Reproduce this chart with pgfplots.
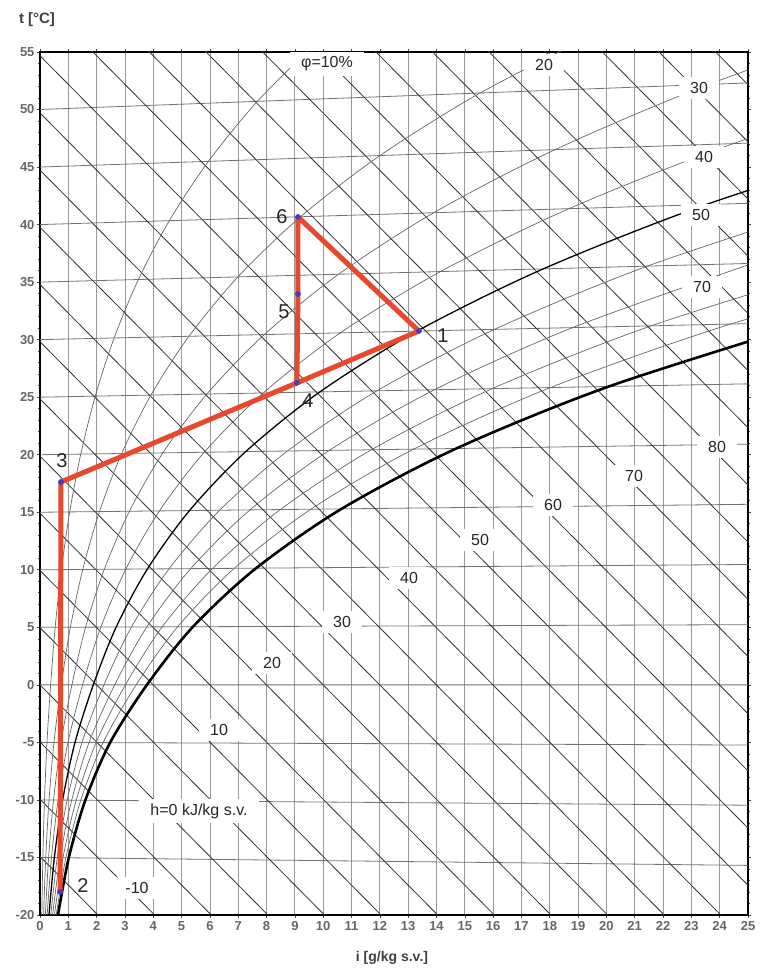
\documentclass[border=0pt]{standalone}
\usepackage{fontspec}
\setmainfont{Liberation Sans}
\usepackage{pgfplots}
\pgfplotsset{compat=1.18}

\definecolor{pathred}{RGB}{232,72,45}
\definecolor{ptblue}{RGB}{70,60,190}

\tikzset{
  clab/.style={fill=white, inner xsep=11pt, inner ysep=5pt,
               font=\fontsize{16}{18}\selectfont, text=black!85},
  plab/.style={inner sep=0pt, font=\fontsize{20}{22}\selectfont, text=black!85},
}

\begin{document}
\begin{tikzpicture}
% page = 765 x 968, axis box = 708 x 863 with its lower left corner at (0,0)
\useasboundingbox (-40pt,-53pt) rectangle (725pt,915pt);
\begin{axis}[
  scale only axis, width=708pt, height=863pt,
  xmin=0, xmax=25, ymin=-20, ymax=55,
  xtick={0,1,...,25},
  xticklabels={0,1,2,3,4,5,6,7,8,9,10,11,12,13,14,15,16,17,18,19,20,21,22,23,24,25},
  ytick={-20,-15,...,55},
  yticklabels={-20,-15,-10,-5,0,5,10,15,20,25,30,35,40,45,50,55},
  minor y tick num=4,
  tick align=outside,
  major tick length=3pt, minor tick length=2pt,
  tick style={black!70, line width=0.6pt},
  tick label style={font=\fontsize{13}{14}\selectfont\bfseries, text=black!60},
  yticklabel style={xshift=1pt},
  xmajorgrids,
  grid style={black!40, line width=0.8pt},
  axis line style={line width=1.8pt},
  unbounded coords=jump,
]

% === isotherms t = -15 ... 55 (slightly rising, Mollier style) ===
\addplot[black!55, line width=0.8pt] coordinates {
  (0,-15) (25,-15.69) (nan,nan)
  (0,-10) (25,-10.46) (nan,nan)
  (0,-5) (25,-5.23) (nan,nan)
  (0,0) (25,0) (nan,nan)
  (0,5) (25,5.23) (nan,nan)
  (0,10) (25,10.46) (nan,nan)
  (0,15) (25,15.69) (nan,nan)
  (0,20) (25,20.92) (nan,nan)
  (0,25) (25,26.16) (nan,nan)
  (0,30) (25,31.39) (nan,nan)
  (0,35) (25,36.62) (nan,nan)
  (0,40) (25,41.85) (nan,nan)
  (0,45) (25,47.08) (nan,nan)
  (0,50) (25,52.31)
};

% === enthalpy lines h = -15 ... 115 kJ/kg, every 5 ===
\addplot[black!80, line width=0.8pt] coordinates {
  (0,-14.91) (25,-77.06) (nan,nan)
  (0,-9.94) (25,-72.09) (nan,nan)
  (0,-4.97) (25,-67.12) (nan,nan)
  (0,0) (25,-62.15) (nan,nan)
  (0,4.97) (25,-57.18) (nan,nan)
  (0,9.94) (25,-52.21) (nan,nan)
  (0,14.91) (25,-47.24) (nan,nan)
  (0,19.88) (25,-42.27) (nan,nan)
  (0,24.85) (25,-37.30) (nan,nan)
  (0,29.82) (25,-32.33) (nan,nan)
  (0,34.79) (25,-27.36) (nan,nan)
  (0,39.76) (25,-22.39) (nan,nan)
  (0,44.73) (25,-17.42) (nan,nan)
  (0,49.70) (25,-12.45) (nan,nan)
  (0,54.67) (25,-7.48) (nan,nan)
  (0,59.64) (25,-2.51) (nan,nan)
  (0,64.61) (25,2.46) (nan,nan)
  (0,69.58) (25,7.43) (nan,nan)
  (0,74.55) (25,12.40) (nan,nan)
  (0,79.52) (25,17.37) (nan,nan)
  (0,84.49) (25,22.34) (nan,nan)
  (0,89.46) (25,27.31) (nan,nan)
  (0,94.43) (25,32.28) (nan,nan)
  (0,99.40) (25,37.25) (nan,nan)
  (0,104.37) (25,42.22) (nan,nan)
  (0,109.34) (25,47.19) (nan,nan)
  (0,114.31) (25,52.16)
};

% === relative humidity curves ===
\addplot[black!60, line width=0.7pt, smooth] coordinates {
  (0.0634,-20) (0.1014,-15) (0.1596,-10) (0.2467,-5) (0.3754,0) (0.5361,5.005)
  (0.7549,10.01) (1.0488,15.03) (1.4393,20.05) (1.9518,25.09) (2.6179,30.15)
  (3.4744,35.22) (4.5665,40.34) (5.9458,45.49) (7.6758,50.71) (9.8292,56.00)};
\addplot[black!60, line width=0.7pt, smooth] coordinates {
  (0.1267,-20) (0.2029,-15) (0.3192,-10) (0.4936,-5.005) (0.7513,0) (1.0731,5.01)
  (1.5116,10.03) (2.1012,15.06) (2.8853,20.11) (3.9161,25.18) (5.2579,30.29)
  (6.9881,35.45) (9.2002,40.68) (12.007,46.00) (15.544,51.44) (19.975,57.03)};
\addplot[black!60, line width=0.7pt, smooth] coordinates {
  (0.1901,-20) (0.3044,-15) (0.4790,-10) (0.7407,-5.007) (1.1276,0) (1.6110,5.015)
  (2.2701,10.04) (3.1571,15.09) (4.3379,20.16) (5.8926,25.27) (7.9204,30.44)
  (10.541,35.68) (13.903,41.03) (18.186,46.51) (23.611,52.18) (30.45,58.10)};
\addplot[black!60, line width=0.7pt, smooth] coordinates {
  (0.2535,-20) (0.4059,-15.01) (0.6388,-10.01) (0.9879,-5.01) (1.5044,0) (2.1497,5.02)
  (3.0305,10.06) (4.2167,15.12) (5.7974,20.21) (7.8818,25.36) (10.605,30.59)
  (14.135,35.91) (18.677,41.38) (24.486,47.04) (31.885,52.95)};
\addplot[black, line width=1.3pt, smooth] coordinates {
  (0.3169,-20.01) (0.5075,-15.01) (0.7988,-10.01) (1.2354,-5.01) (1.8817,0) (2.6896,5.02)
  (3.7927,10.07) (5.2798,15.15) (7.2638,20.27) (9.8835,25.46) (13.314,30.74)
  (17.770,36.15) (23.522,41.74) (30.912,47.57)};
\addplot[black!60, line width=0.7pt, smooth] coordinates {
  (0.3803,-20.01) (0.6091,-15.02) (0.9587,-10.02) (1.4831,-5.01) (2.2594,0) (3.2303,5.03)
  (4.5569,10.08) (6.3465,15.18) (8.7369,20.32) (11.898,25.55) (16.045,30.89)
  (21.446,36.39) (28.442,42.10)};
\addplot[black!60, line width=0.7pt, smooth] coordinates {
  (0.4438,-20.02) (0.7107,-15.02) (1.1188,-10.02) (1.7309,-5.02) (2.6375,0) (3.7720,5.03)
  (5.3228,10.10) (7.4169,15.21) (10.217,20.38) (13.925,25.64) (18.800,31.04)
  (25.165,36.63)};
\addplot[black!60, line width=0.7pt, smooth] coordinates {
  (0.5072,-20.02) (0.8124,-15.02) (1.2790,-10.02) (1.9790,-5.02) (3.0161,0) (4.3145,5.04)
  (6.0906,10.11) (8.4909,15.24) (11.704,20.43) (15.966,25.74) (21.579,31.20)
  (28.927,36.87)};
\addplot[black!60, line width=0.7pt, smooth] coordinates {
  (0.5707,-20.02) (0.9140,-15.03) (1.4392,-10.03) (2.2273,-5.02) (3.3953,0) (4.8580,5.04)
  (6.8605,10.13) (9.5685,15.27) (13.198,20.49) (18.019,25.83) (24.382,31.35)
  (32.733,37.12)};
% saturation (phi = 100 %)
\addplot[black, line width=2.6pt, smooth] coordinates {
  (0.634,-20.02) (1.016,-15.03) (1.600,-10.03) (2.476,-5.02) (3.775,0) (5.403,5.05)
  (7.632,10.14) (10.650,15.30) (14.699,20.54) (20.086,25.93) (27.21,31.51)};

% === process path 2-3-4-5-6-1-4 ===
\addplot[pathred, line width=5pt, line join=round, line cap=round] coordinates {
  (0.71,-18.0) (0.74,17.63) (9.07,26.24) (9.11,33.97) (9.11,40.66) (13.38,30.75) (9.07,26.24)};
\addplot[only marks, mark=*, mark size=2.6pt, ptblue] coordinates {
  (13.38,30.75) (0.71,-18.0) (0.74,17.63) (9.07,26.24) (9.11,33.97) (9.11,40.66)};

\end{axis}

% === labels (positions in pt from the axis' lower left corner) ===
\node[font=\fontsize{15}{17}\selectfont\bfseries, text=black!75] at (-3pt,895pt) {t [°C]};
\node[font=\fontsize{14}{16}\selectfont\bfseries, text=black!75] at (352pt,-43pt) {i [g/kg s.v.]};

% relative humidity
\node[clab] at (287pt,851pt) {φ=10\%};
\node[clab] at (504pt,850pt) {20};
\node[clab] at (659pt,827pt) {30};
\node[clab] at (664pt,758pt) {40};
\node[clab] at (661pt,700pt) {50};
\node[clab] at (662pt,628pt) {70};

% enthalpy
\node[clab] at (97pt,27pt) {-10};
\node[clab] at (159pt,104pt) {h=0 kJ/kg s.v.};
\node[clab] at (179pt,185pt) {10};
\node[clab] at (232pt,252pt) {20};
\node[clab] at (302pt,293pt) {30};
\node[clab] at (369pt,337pt) {40};
\node[clab] at (440pt,375pt) {50};
\node[clab] at (513pt,410pt) {60};
\node[clab] at (594pt,439pt) {70};
\node[clab] at (677pt,468pt) {80};

% states
\node[plab] at (403pt,579pt) {1};
\node[plab] at (43pt,29pt) {2};
\node[plab] at (22pt,454pt) {3};
\node[plab] at (268pt,514pt) {4};
\node[plab] at (244pt,603pt) {5};
\node[plab] at (242pt,698pt) {6};
\end{tikzpicture}
\end{document}
